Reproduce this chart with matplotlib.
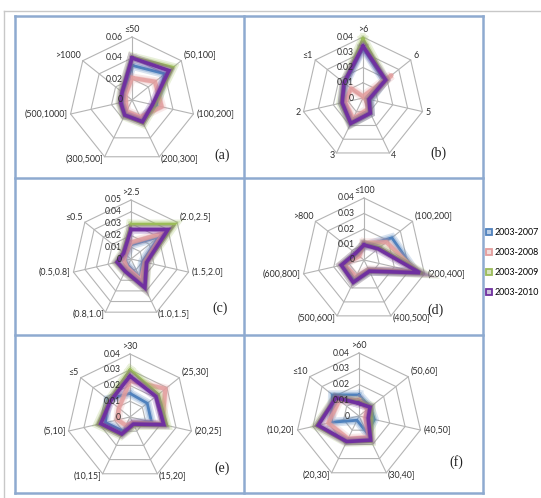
import matplotlib.pyplot as plt
import numpy as np
from matplotlib.lines import Line2D

plt.rcParams['font.family'] = ['Lato', 'DejaVu Sans']

W, H = 541, 498

series_names = ["2003-2007", "2003-2008", "2003-2009", "2003-2010"]
series_colors = ["#4f81bd", "#e39c9c", "#9bbb59", "#7030a0"]
series_light = ["#b9cde5", "#f2dcdb", "#d7e4bd", "#ccc1da"]

# (a)
cats_a = ["≤50", "(50,100]", "(100,200]", "(200,300]", "(300,500]", "(500,1000]", ">1000"]
a_2007 = [0.033, 0.040, 0.024, 0.020, 0.014, 0.009, 0.010]
a_2008 = [0.021, 0.028, 0.029, 0.018, 0.012, 0.006, 0.008]
a_2009 = [0.041, 0.050, 0.022, 0.025, 0.017, 0.012, 0.013]
a_2010 = [0.040, 0.045, 0.020, 0.023, 0.016, 0.011, 0.012]

# (b)
cats_b = [">6", "6", "5", "4", "3", "2", "≤1"]
b_2007 = [0.033, 0.018, 0.005, 0.011, 0.018, 0.014, 0.015]
b_2008 = [0.001, 0.024, 0.002, 0.008, 0.015, 0.012, 0.010]
b_2009 = [0.039, 0.019, 0.004, 0.011, 0.019, 0.015, 0.016]
b_2010 = [0.034, 0.019, 0.004, 0.011, 0.0185, 0.014, 0.016]

# (c)
cats_c = [">2.5", "(2.0,2.5]", "(1.5,2.0]", "(1.0,1.5]", "(0.8,1.0]", "(0.5,0.8]", "≤0.5"]
c_2007 = [0.012, 0.030, 0.010, 0.018, 0.006, 0.005, 0.005]
c_2008 = [0.014, 0.035, 0.012, 0.020, 0.008, 0.006, 0.006]
c_2009 = [0.0295, 0.0475, 0.014, 0.028, 0.012, 0.013, 0.009]
c_2010 = [0.025, 0.040, 0.0135, 0.027, 0.0115, 0.012, 0.008]

# (d)
cats_d = ["≤100", "(100,200]", "(200,400]", "(400,500]", "(500,600]", "(600,800]", ">800"]
d_2007 = [0.009, 0.023, 0.034, 0.008, 0.014, 0.013, 0.006]
d_2008 = [0.011, 0.0185, 0.035, 0.007, 0.012, 0.013, 0.004]
d_2009 = [0.010, 0.013, 0.039, 0.008, 0.016, 0.015, 0.007]
d_2010 = [0.0097, 0.0116, 0.037, 0.008, 0.016, 0.015, 0.007]

# (e)
cats_e = [">30", "(25,30]", "(20,25]", "(15,20]", "(10,15]", "(5,10]", "≤5"]
e_2007 = [0.015, 0.014, 0.014, 0.004, 0.010, 0.016, 0.018]
e_2008 = [0.023, 0.0287, 0.021, 0.004, 0.006, 0.008, 0.009]
e_2009 = [0.030, 0.023, 0.024, 0.006, 0.013, 0.021, 0.017]
e_2010 = [0.026, 0.021, 0.022, 0.005, 0.012, 0.019, 0.016]

# (f)
cats_f = [">60", "(50,60]", "(40,50]", "(30,40]", "(20,30]", "(10,20]", "≤10"]
f_2007 = [0.0134, 0.009, 0.010, 0.012, 0.003, 0.018, 0.0215]
f_2008 = [0.010, 0.007, 0.004, 0.015, 0.016, 0.020, 0.016]
f_2009 = [0.009, 0.010, 0.008, 0.018, 0.0185, 0.028, 0.019]
f_2010 = [0.008, 0.009, 0.006, 0.017, 0.018, 0.0266, 0.0187]

panels = [
    ("(a)", cats_a, [a_2007, a_2008, a_2009, a_2010], 0.06, 0.02),
    ("(b)", cats_b, [b_2007, b_2008, b_2009, b_2010], 0.04, 0.01),
    ("(c)", cats_c, [c_2007, c_2008, c_2009, c_2010], 0.05, 0.01),
    ("(d)", cats_d, [d_2007, d_2008, d_2009, d_2010], 0.04, 0.01),
    ("(e)", cats_e, [e_2007, e_2008, e_2009, e_2010], 0.04, 0.01),
    ("(f)", cats_f, [f_2007, f_2008, f_2009, f_2010], 0.04, 0.01),
]

# pixel layout: chart centre, outer radius, tag position
centres = [(132, 100, 63), (363, 98, 61), (131, 259, 59),
           (364, 260, 62), (130, 417, 63), (359, 416, 63)]
tag_pos = [(222, 155), (438, 153), (220, 308), (436, 310), (222, 468), (456, 462)]

GRID = "#b4b4b4"
TXT = "#2e2e2e"
BOX = 100  # half-size of each panel's axes, px


def radar(ax, cats, series, rmax, step, R):
    n = len(cats)
    ang = np.arange(n) * 2 * np.pi / n
    sx, cy = np.sin(ang), np.cos(ang)
    px = rmax / R  # data units per pixel

    ticks = np.arange(step, rmax + step / 2, step)
    for t in ticks:
        ax.plot(np.append(t * sx, t * sx[0]), np.append(t * cy, t * cy[0]),
                color=GRID, lw=0.8, zorder=1)
    for i in range(n):
        ax.plot([0, rmax * sx[i]], [0, rmax * cy[i]], color=GRID, lw=0.8, zorder=1)

    for k, vals in enumerate(series):
        v = np.asarray(vals)
        x = np.append(v * sx, v[0] * sx[0])
        y = np.append(v * cy, v[0] * cy[0])
        col = series_colors[k]
        # soft glow under the line
        ax.plot(x, y, color=col, lw=6.5, alpha=0.22, solid_joinstyle="miter",
                zorder=2 + k)
        ax.plot(x, y, color=col, lw=4.0, alpha=0.3, solid_joinstyle="miter",
                zorder=2 + k)
        if k == 1:
            ax.plot(x, y, color=col, lw=3.0, alpha=0.8, zorder=2 + k)
        else:
            lw = 2.6 if k == 3 else 2.0
            ax.plot(x, y, color=col, lw=lw, solid_joinstyle="miter", zorder=2 + k)

    # value labels on the vertical axis
    for t in np.append(0, ticks):
        lab = "0" if t == 0 else f"{t:.2f}"
        ax.text(-9 * px, t, lab, ha="right", va="center", fontsize=6.2,
                color=TXT, zorder=10)

    # category labels
    for i, c in enumerate(cats):
        d = rmax + 3 * px
        if abs(sx[i]) < 0.1:
            ha, va = "center", ("bottom" if cy[i] > 0 else "top")
        else:
            ha = "left" if sx[i] > 0 else "right"
            va = "center"
        dy = 3 * px if (va == "center" and cy[i] > 0.3) else 0
        ax.text(d * sx[i], d * cy[i] + dy, c, ha=ha, va=va, fontsize=6.4, color=TXT)

    L = rmax * BOX / R
    ax.set_xlim(-L, L)
    ax.set_ylim(-L, L)
    ax.axis("off")


fig = plt.figure(figsize=(W / 100, H / 100), dpi=100)

# table frame behind the charts
bg = fig.add_axes([0, 0, 1, 1])
bg.set_xlim(0, W)
bg.set_ylim(H, 0)
bg.axis("off")
bg.plot([4, W], [11, 11], color="#c8c8c8", lw=1.0)
bg.plot([4, 4], [11, H], color="#c8c8c8", lw=1.0)
frame_c = "#8eaad0"
xl, xm, xr = 15, 244, 483
yt, y1, y2, yb = 16, 178, 335, 493
for yy in (yt, y1, y2, yb):
    bg.plot([xl, xr], [yy, yy], color=frame_c, lw=1.8)
for xx in (xl, xm, xr):
    bg.plot([xx, xx], [yt, yb], color=frame_c, lw=1.8)

for (tag, cats, series, rmax, step), (cx, cyp, R), (tx, ty) in zip(panels, centres, tag_pos):
    ax = fig.add_axes([(cx - BOX) / W, 1 - (cyp + BOX) / H, 2 * BOX / W, 2 * BOX / H])
    radar(ax, cats, series, rmax, step, R)
    fig.text(tx / W, 1 - ty / H, tag, ha="center", va="center", fontsize=10,
             family="Liberation Serif", color="#222222")

handles = [Line2D([], [], marker="s", ls="none", markersize=5,
                  markerfacecolor=series_light[k], markeredgecolor=series_colors[k],
                  markeredgewidth=1.3) for k in range(4)]
fig.legend(handles, series_names, loc="upper left",
           bbox_to_anchor=(486 / W, 1 - 228 / H), frameon=False, fontsize=6.4,
           handlelength=0.7, handletextpad=0.3, labelspacing=1.25,
           borderpad=0, borderaxespad=0)

fig.savefig("out.png", dpi=100)
